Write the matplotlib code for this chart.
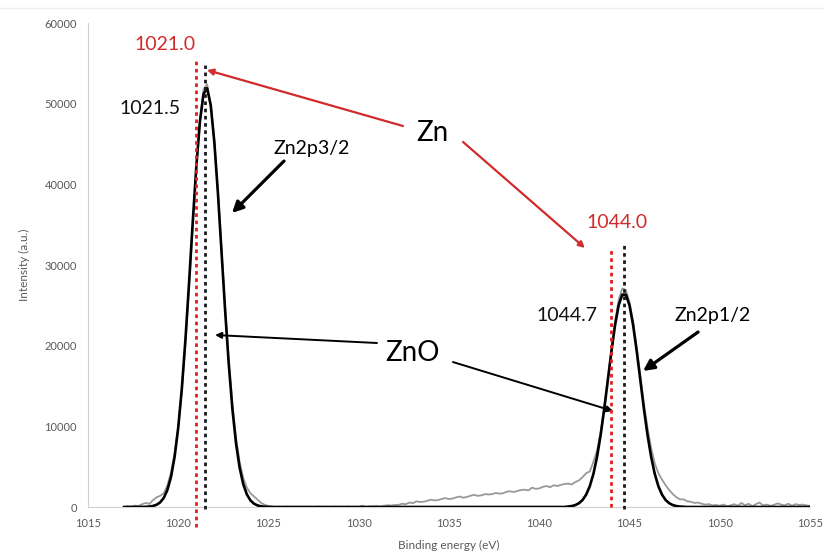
import numpy as np
import matplotlib
matplotlib.use("Agg")
import matplotlib.pyplot as plt
from matplotlib.lines import Line2D

plt.rcParams['font.family'] = ['Lato', 'DejaVu Sans']

# Binding energy grid (eV), 0.2 eV steps from 1017.0 to 1055.0
energy = np.round(np.arange(1017.0, 1055.01, 0.2), 1)

# Measured Zn 2p spectrum (grey trace)
measured = [
    0, 80, 40, 180, 120, 350, 500, 380, 850, 1200,
    1400, 1700, 2700, 4300, 6700, 10000, 14500, 20300, 27200, 34600,
    41800, 47800, 51800, 52400, 49900, 45400, 39100, 31900, 24700, 18200,
    12800, 8600, 5600, 3600, 2400, 1700, 1300, 900, 500, 250,
    120, 60, 0, 30, 0, 50, 0, 20, 0, 40,
    0, 30, 0, 0, 60, 0, 20, 0, 40, 0,
    30, 0, 50, 0, 20, 0, 160, 0, 60, 80,
    100, 40, 150, 220, 180, 260, 250, 400, 350, 550,
    480, 700, 620, 650, 780, 900, 820, 850, 1000, 1100,
    980, 1050, 1200, 1300, 1150, 1250, 1400, 1500, 1380, 1450,
    1600, 1550, 1600, 1750, 1650, 1700, 1900, 1950, 1850, 2000,
    2100, 2150, 2050, 2400, 2250, 2300, 2500, 2600, 2450, 2700,
    2600, 2750, 2850, 2900, 2800, 3100, 3300, 3700, 4200, 4400,
    5600, 7000, 9300, 12500, 16000, 19600, 23000, 25700, 27100, 26900,
    25400, 23000, 19800, 16300, 12800, 9800, 7300, 5400, 4200, 3400,
    2700, 2100, 1600, 1200, 950, 950, 700, 650, 500, 550,
    400, 300, 350, 200, 250, 150, 300, 100, 200, 350,
    150, 500, 200, 400, 100, 350, 550, 200, 300, 150,
    250, 450, 300, 200, 400, 150, 350, 250, 300, 200,
    150,
]

# Fitted envelope (black trace)
fitted = [
    0, 0, 0, 0, 0, 8, 22, 54, 126, 277,
    578, 1138, 2122, 3745, 6247, 9860, 14730, 20820, 27850, 35240,
    42180, 47770, 51200, 51910, 49800, 45200, 38820, 31540, 24250, 17640,
    12140, 7900, 4870, 2840, 1567, 816, 403, 188, 83, 35,
    14, 0, 0, 0, 0, 0, 0, 0, 0, 0,
    0, 0, 0, 0, 0, 0, 0, 0, 0, 0,
    0, 0, 0, 0, 0, 0, 0, 0, 0, 0,
    0, 0, 0, 0, 0, 0, 0, 0, 0, 0,
    0, 0, 0, 0, 0, 0, 0, 0, 0, 0,
    0, 0, 0, 0, 0, 0, 0, 0, 0, 0,
    0, 0, 0, 0, 0, 0, 0, 0, 0, 0,
    0, 0, 0, 0, 0, 0, 0, 0, 0, 0,
    0, 0, 0, 54, 116, 239, 469, 868, 1537, 2576,
    4100, 6199, 8899, 12134, 15707, 19313, 22549, 25005, 26329, 26329,
    25005, 22549, 19313, 15707, 12134, 8899, 6199, 4100, 2576, 1537,
    868, 469, 239, 116, 54, 23, 0, 0, 0, 0,
    0, 0, 0, 0, 0, 0, 0, 0, 0, 0,
    0, 0, 0, 0, 0, 0, 0, 0, 0, 0,
    0, 0, 0, 0, 0, 0, 0, 0, 0, 0,
    0,
]

# Reference positions (eV): metallic Zn and ZnO peak positions
zn_positions = [1021.0, 1044.0]
zno_positions = [1021.5, 1044.7]
zn_line_tops = [55300, 32200]
zno_line_tops = [54800, 32500]

x_ticks = [1015, 1020, 1025, 1030, 1035, 1040, 1045, 1050, 1055]
y_ticks = [0, 10000, 20000, 30000, 40000, 50000, 60000]

RED = '#d22b2b'
TICK_GREY = '#595959'

fig = plt.figure(figsize=(8.24, 5.55), dpi=100)
ax = fig.add_axes([88 / 824, 1 - 507 / 555, 722 / 824, 484 / 555])

ax.plot(energy, measured, color='#999999', lw=1.3, zorder=2)
ax.plot(energy, fitted, color='black', lw=1.9, zorder=3)

for x, top in zip(zn_positions, zn_line_tops):
    ax.plot([x, x], [-2500 if x < 1030 else 0, top], color='#e02020',
            lw=2.0, linestyle=(0, (1.3, 1.3)), zorder=4, clip_on=False)
for x, top in zip(zno_positions, zno_line_tops):
    ax.plot([x, x], [-300, top], color='#1a1a1a',
            lw=2.0, linestyle=(0, (1.3, 1.3)), zorder=4, clip_on=False)

ax.set_xlim(1015, 1055)
ax.set_ylim(0, 60000)
ax.set_xticks(x_ticks)
ax.set_yticks(y_ticks)
ax.tick_params(length=0, labelsize=8, labelcolor=TICK_GREY, pad=8)
for side in ('top', 'right'):
    ax.spines[side].set_visible(False)
ax.spines['left'].set_color('#d0d0d0')
ax.spines['bottom'].set_color('#d0d0d0')
ax.set_xlabel('Binding energy (eV)', fontsize=8.5, color=TICK_GREY, labelpad=8)
ax.set_ylabel('Intensity (a.u.)', fontsize=8.5, color=TICK_GREY, labelpad=10)

# Peak position labels
ax.text(1019.27, 57300, f'{zn_positions[0]:.1f}', color=RED, fontsize=14,
        ha='center', va='center')
ax.text(1018.43, 49460, f'{zno_positions[0]:.1f}', color='#111111', fontsize=14,
        ha='center', va='center')
ax.text(1044.31, 35330, f'{zn_positions[1]:.1f}', color=RED, fontsize=14,
        ha='center', va='center')
ax.text(1041.54, 23800, f'{zno_positions[1]:.1f}', color='#111111', fontsize=14,
        ha='center', va='center')

# Component labels with arrows
ax.text(1027.41, 44500, 'Zn2p3/2', fontsize=14, ha='center', va='center')
ax.annotate('', xy=(1022.98, 36450), xytext=(1025.86, 42890),
            arrowprops=dict(arrowstyle='-|>', color='black', lw=2.3,
                            mutation_scale=16, shrinkA=0, shrinkB=0))
ax.text(1049.63, 23800, 'Zn2p1/2', fontsize=14, ha='center', va='center')
ax.annotate('', xy=(1045.75, 16860), xytext=(1048.80, 21690),
            arrowprops=dict(arrowstyle='-|>', color='black', lw=2.3,
                            mutation_scale=16, shrinkA=0, shrinkB=0))

ax.text(1034.06, 46360, 'Zn', fontsize=20, ha='center', va='center')
ax.annotate('', xy=(1021.59, 54170), xytext=(1032.45, 47230),
            arrowprops=dict(arrowstyle='-|>', color=RED, lw=1.6,
                            mutation_scale=9, shrinkA=0, shrinkB=0))
ax.annotate('', xy=(1042.53, 32110), xytext=(1035.78, 45250),
            arrowprops=dict(arrowstyle='-|>', color=RED, lw=1.6,
                            mutation_scale=9, shrinkA=0, shrinkB=0))

ax.text(1033.0, 19090, 'ZnO', fontsize=20, ha='center', va='center')
ax.annotate('', xy=(1022.04, 21320), xytext=(1031.01, 20330),
            arrowprops=dict(arrowstyle='-|>', color='black', lw=1.4,
                            mutation_scale=9, shrinkA=0, shrinkB=0))
ax.annotate('', xy=(1044.09, 11900), xytext=(1035.22, 17970),
            arrowprops=dict(arrowstyle='-|>', color='black', lw=1.4,
                            mutation_scale=9, shrinkA=0, shrinkB=0))

# faint rule along the top of the page
fig.add_artist(Line2D([0, 1], [1 - 8 / 555] * 2, color='#ececec', lw=1.0))

fig.savefig('out.png', dpi=100)
